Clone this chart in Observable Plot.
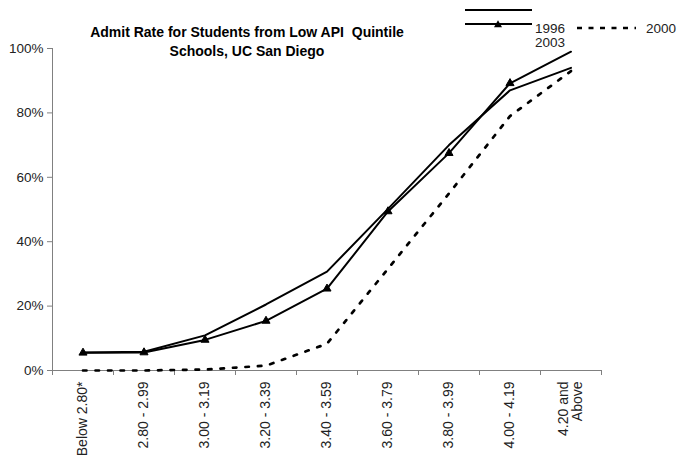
<!DOCTYPE html>
<html><head><meta charset="utf-8">
<script src="https://cdn.jsdelivr.net/npm/d3@7"></script>
<script src="https://cdn.jsdelivr.net/npm/@observablehq/plot@0.6"></script>
<style>
body{margin:0;background:#fff;font-family:"Liberation Sans",Arial,sans-serif;}
#wrap{position:relative;width:678px;height:465px;}
#title{position:absolute;left:47px;width:400px;top:23px;text-align:center;font-weight:bold;font-size:14px;line-height:19px;color:#000;white-space:pre;}
#legend{position:absolute;left:0;top:0;pointer-events:none;}
</style></head><body>
<div id="wrap"><div id="chart"></div><div id="title">Admit Rate for Students from Low API  Quintile
Schools, UC San Diego</div></div>
<script>
const categories = ["Below 2.80*","2.80 - 2.99","3.00 - 3.19","3.20 - 3.39","3.40 - 3.59","3.60 - 3.79","3.80 - 3.99","4.00 - 4.19","4.20 and\nAbove"];
const seriesNames = ["1996","2003","2000"];
const values1996 = [5.6, 5.8, 10.9, 20.5, 30.7, 50.2, 70.0, 87.0, 94.0];
const values2003 = [5.5, 5.6, 9.5, 15.4, 25.4, 49.4, 67.5, 89.2, 99.0];
const values2000 = [0, 0, 0.3, 1.5, 8.3, 31.6, 55.0, 79.0, 93.0];
const yTicks = [0, 20, 40, 60, 80, 100];

const toRows = vals => vals.map((v, i) => ({i, v}));
const idx = categories.map((c, i) => i);
const bounds = d3.range(categories.length + 1).map(i => i - 0.5);
const gray = "#808080";

const chart = Plot.plot({
  width: 678, height: 465,
  marginLeft: 52, marginRight: 77, marginTop: 48, marginBottom: 95,
  style: {fontFamily: "'Liberation Sans', Arial, sans-serif", fontSize: "13.5px", color: "#000", background: "transparent"},
  x: {type: "linear", domain: [-0.5, categories.length - 0.5]},
  y: {domain: [0, 100]},
  marks: [
    Plot.axisY({ticks: yTicks, tickFormat: d => d + "%", tickSize: 5, tickPadding: 4, stroke: gray, fill: "#222", fontSize: 13.5, label: null}),
    Plot.axisX({ticks: bounds, tickFormat: () => "", tickSize: 5, stroke: gray, label: null}),
    Plot.axisX({ticks: idx, tickFormat: i => categories[i], tickSize: 0, tickPadding: 11, tickRotate: -90, fill: "#222", fontSize: 14, label: null}),
    Plot.ruleX([-0.5], {stroke: gray}),
    Plot.ruleY([0], {stroke: gray}),
    Plot.line(toRows(values2000), {x: "i", y: "v", stroke: "#000", strokeWidth: 2.7, strokeDasharray: "3.5,9"}),
    Plot.line(toRows(values1996), {x: "i", y: "v", stroke: "#000", strokeWidth: 2}),
    Plot.line(toRows(values2003), {x: "i", y: "v", stroke: "#000", strokeWidth: 2}),
    Plot.dot(toRows(values2003).slice(0, 8), {x: "i", y: "v", symbol: "triangle", r: 3, fill: "#000", stroke: "#000", strokeWidth: 1})
  ]
});
document.getElementById("chart").appendChild(chart);

// legend (reproducing the reference's layout)
const lg = d3.select("#wrap").append("svg").attr("id", "legend").attr("width", 678).attr("height", 60)
  .style("font-family", "'Liberation Sans', Arial, sans-serif").style("font-size", "13.5px").attr("fill", "#222");
lg.append("line").attr("x1", 465).attr("x2", 532).attr("y1", 10).attr("y2", 10).attr("stroke", "#000").attr("stroke-width", 2);
lg.append("line").attr("x1", 465).attr("x2", 532).attr("y1", 24).attr("y2", 24).attr("stroke", "#000").attr("stroke-width", 2);
lg.append("path").attr("d", d3.symbol(d3.symbolTriangle, 28)()).attr("transform", "translate(498,25)").attr("fill", "#000");
lg.append("text").attr("x", 535).attr("y", 33).text(seriesNames[0]);
lg.append("text").attr("x", 535).attr("y", 47).text(seriesNames[1]);
lg.append("line").attr("x1", 577).attr("x2", 636).attr("y1", 28).attr("y2", 28).attr("stroke", "#000").attr("stroke-width", 2.7).attr("stroke-dasharray", "5,6.5");
lg.append("text").attr("x", 646).attr("y", 33).text(seriesNames[2]);
</script>
</body></html>
